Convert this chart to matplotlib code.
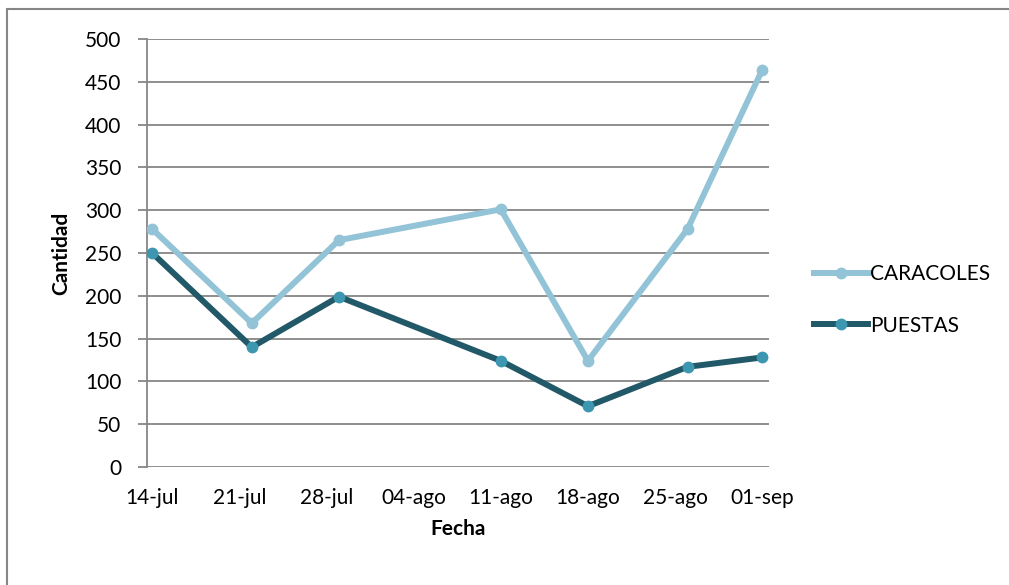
import matplotlib.pyplot as plt
import numpy as np
from matplotlib.patches import Rectangle

plt.rcParams['font.family'] = ['Lato', 'DejaVu Sans']

fechas = np.array(['2013-07-14', '2013-07-22', '2013-07-29', '2013-08-11',
                   '2013-08-18', '2013-08-26', '2013-09-01'], dtype='datetime64[D]')
caracoles = [278, 168, 265, 301, 124, 278, 464]
puestas = [250, 140, 199, 124, 71, 117, 128]
tick_fechas = np.arange(np.datetime64('2013-07-14'), np.datetime64('2013-09-02'), 7)
tick_labels = ['14-jul', '21-jul', '28-jul', '04-ago', '11-ago', '18-ago', '25-ago', '01-sep']

grid_color = '#868686'
fs = 15

fig = plt.figure(figsize=(10.09, 5.85), dpi=100)
ax = fig.add_axes([147 / 1009, 1 - 467 / 585, (769 - 147) / 1009, (467 - 39) / 585])

# outer chart frame
fig.patches.append(Rectangle((7 / 1009, -0.1), 1.2, 1 - 9 / 585 + 0.1,
                             transform=fig.transFigure, fill=False,
                             edgecolor=grid_color, linewidth=1.5))

ax.plot(fechas, caracoles, color='#93C3D6', linewidth=4.3, marker='o',
        markersize=7.5, markerfacecolor='#93C3D6', markeredgecolor='#93C3D6',
        label='CARACOLES', zorder=3)
ax.plot(fechas, puestas, color='#215968', linewidth=4.3, marker='o',
        markersize=7.5, markerfacecolor='#3E97B0', markeredgecolor='#3E97B0',
        label='PUESTAS', zorder=3)

ax.set_ylim(0, 500)
ax.set_yticks(np.arange(0, 501, 50))
ax.set_xlim(tick_fechas[0] - np.timedelta64(10, 'h'), tick_fechas[-1] + np.timedelta64(13, 'h'))
ax.set_xticks(tick_fechas)
ax.set_xticklabels(tick_labels)

ax.grid(axis='y', color=grid_color, linewidth=1.3)
ax.set_axisbelow(True)
for s in ['top', 'right', 'bottom']:
    ax.spines[s].set_visible(False)
ax.spines['left'].set_color(grid_color)
ax.spines['left'].set_linewidth(1.3)
ax.tick_params(axis='y', length=6.5, width=1.3, color=grid_color, labelsize=fs, pad=12)
ax.tick_params(axis='x', length=0, labelsize=fs, pad=15)

ax.set_ylabel('Cantidad', fontsize=fs, fontweight='bold', labelpad=10)
ax.set_xlabel('Fecha', fontsize=fs, fontweight='bold', labelpad=8)

fig.legend(loc='center left', bbox_to_anchor=(795 / 1009, 1 - 300 / 585),
           frameon=False, fontsize=fs, handlelength=2.6, handletextpad=0.1,
           labelspacing=1.5)

fig.savefig('out.png', dpi=100)
